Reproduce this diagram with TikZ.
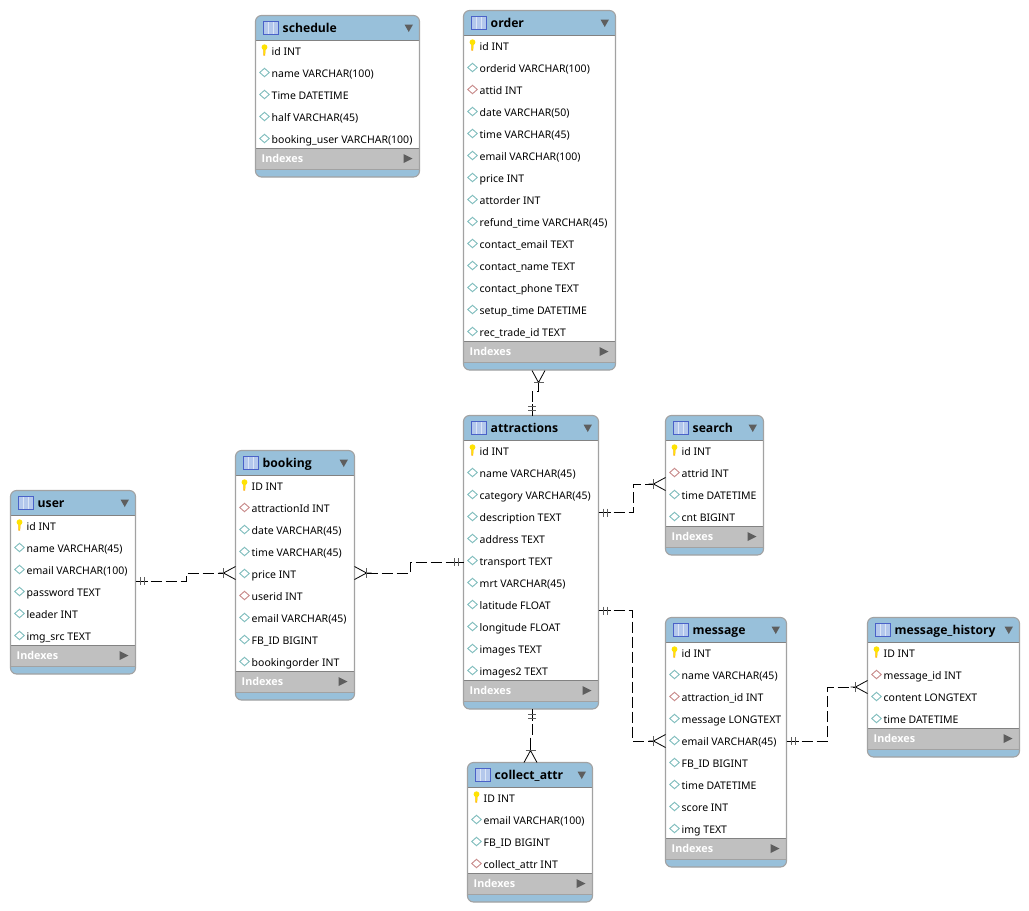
\documentclass[tikz,border=0pt]{standalone}
\usepackage{fontspec}
\setmainfont{Noto Sans}
\newfontfamily\erdboldface{Open Sans}[BoldFont={Open Sans Bold}]
\usetikzlibrary{calc}
\definecolor{erdhead}{HTML}{98C0DA}
\definecolor{erdband}{HTML}{C0C0C0}
\definecolor{erdedge}{HTML}{A2A2A2}
\definecolor{erdrule}{HTML}{828282}
\definecolor{erdmark}{HTML}{5E5E5E}
\definecolor{erdteal}{HTML}{7FBDBD}
\definecolor{erdred}{HTML}{C88A8A}
\definecolor{erdglyphedge}{HTML}{4A62C8}
\definecolor{erdglyphfill}{HTML}{B4C8EC}
\definecolor{erdglyphline}{HTML}{DCE6F6}
\tikzset{
  x=1pt,y=-1pt,
  rowtext/.style={anchor=base west,inner sep=0pt,font=\fontsize{10.5}{12}\selectfont,text=black},
  titletext/.style={anchor=base west,inner sep=0pt,font=\erdboldface\fontsize{12.2}{14}\selectfont\bfseries,text=black},
  idxtext/.style={anchor=base west,inner sep=0pt,font=\erdboldface\fontsize{10.8}{12}\selectfont\bfseries,text=white},
  tablebox/.style={anchor=north west,rectangle,rounded corners=6pt,inner sep=0pt,outer sep=0pt},
  bandbox/.style={anchor=north west,rectangle,inner sep=0pt,outer sep=0pt},
  erdrel/.style={draw=black,line width=0.8pt,dash pattern=on 11pt off 4pt},
  fromcrow/.style={shorten <=12pt},
  tocrow/.style={shorten >=12pt},
  pics/erdone/.style={code={
    \draw[black,line width=0.8pt] (0,0)--(12,0);
    \draw[erdmark,line width=1pt] (5,-4)--(5,4) (9,-4)--(9,4);
  }},
  pics/erdmany/.style={code={
    \draw[black,line width=0.8pt] (17,0)--(12,0) (12,0)--(0,-6.5) (12,0)--(0,6.5);
    \draw[erdmark,line width=1.4pt] (12,-5)--(12,5);
  }},
}
% Column markers: primary key, plain column, foreign key
\newcommand{\erdiconp}[2]{\begin{scope}[shift={(#1,#2)}]
  \fill[orange!70!yellow] (-1.2,-3)--(-1.2,5)--(0.6,5)--(1.2,-3)--cycle;
  \fill[yellow!85!orange] (0,-3.3) ellipse [x radius=2.9pt,y radius=2.9pt];
  \fill[yellow!90!orange] (-0.8,-2)--(-0.6,4)--(0.4,4)--(0.8,-2)--cycle;
\end{scope}}
\newcommand{\erdiconn}[2]{\draw[erdteal,fill=white,line width=0.9pt] (#1-4.8,#2)--(#1,#2-4.2)--(#1+4.8,#2)--(#1,#2+4.2)--cycle;}
\newcommand{\erdiconf}[2]{\draw[erdred,fill=white,line width=0.9pt] (#1-4.8,#2)--(#1,#2-4.2)--(#1+4.8,#2)--(#1,#2+4.2)--cycle;}
% \erdtable{id}{left}{right}{top}{row count}{title}{kind/text list}
\newcommand{\erdtable}[7]{%
  \pgfmathsetmacro{\erdw}{#3-#2}%
  \pgfmathsetmacro{\erdh}{51.5+22*#5}%
  \pgfmathsetmacro{\erdbh}{22*#5-2.5}%
  \pgfmathsetmacro{\erdbt}{#4+25}%
  \pgfmathsetmacro{\erdit}{#4+25+\erdbh}%
  \pgfmathsetmacro{\erdix}{#2+9}%
  \node[tablebox,fill=erdhead,minimum width=\erdw pt,minimum height=\erdh pt] (#1) at (#2,#4) {};
  \node[bandbox,fill=white,minimum width=\erdw pt,minimum height=\erdbh pt] (#1-body) at (#2,\erdbt) {};
  \node[bandbox,fill=erdband,minimum width=\erdw pt,minimum height=21.5pt] (#1-band) at (#2,\erdit) {};
  \draw[erdrule,line width=0.8pt] (#1-body.north west)--(#1-body.north east) (#1-band.north west)--(#1-band.north east);
  \draw[erdedge,line width=0.8pt] (#1-band.south west)--(#1-band.south east);
  \draw[erdrule,line width=0.8pt] (#1-body.north west)--(#1-body.south west) (#1-body.north east)--(#1-body.south east);
  \node[tablebox,draw=erdedge,line width=1.1pt,minimum width=\erdw pt,minimum height=\erdh pt] at (#2,#4) {};
  % table glyph in the header
  \begin{scope}[shift={(#2,#4)}]
    \fill[erdglyphedge] (7,5) rectangle (23,19);
    \fill[erdglyphfill] (8,6.8) rectangle (22,18.2);
    \draw[erdglyphline,line width=0.7pt] (12.5,6.8)--(12.5,18.2) (17.5,6.8)--(17.5,18.2);
  \end{scope}
  \node[titletext] (#1-title) at (#2+27,#4+17) {#6};
  \fill[erdmark] (#3-15,#4+9)--(#3-6.5,#4+9)--(#3-10.75,#4+16.5)--cycle;
  \foreach \erdk/\erdtxt [count=\erdn] in {#7} {
    \pgfmathsetmacro{\erdry}{#4+36+22*(\erdn-1)}
    \pgfmathsetmacro{\erdiy}{\erdry-1}
    \csname erdicon\erdk\endcsname{\erdix}{\erdiy}
    \node[rowtext] (#1-\erdn) at (#2+16,\erdry+4) {\erdtxt};
  }
  \node[idxtext] (#1-idx) at (#2+6,\erdit+14.5) {Indexes};
  \fill[erdmark] (#3-16,\erdit+6)--(#3-7,\erdit+10.5)--(#3-16,\erdit+15)--cycle;
}
\begin{document}
\begin{tikzpicture}
\useasboundingbox[fill=white] (-0.5,-0.5) rectangle (1028.5,910.5);

\erdtable{schedule}{255}{419}{15}{5}{schedule}{p/id INT,n/name VARCHAR(100),n/Time DATETIME,n/half VARCHAR(45),n/booking\_user VARCHAR(100)}
\erdtable{order}{463}{615}{10}{14}{order}{p/id INT,n/orderid VARCHAR(100),f/attid INT,n/date VARCHAR(50),n/time VARCHAR(45),n/email VARCHAR(100),n/price INT,n/attorder INT,n/refund\_time VARCHAR(45),n/contact\_email TEXT,n/contact\_name TEXT,n/contact\_phone TEXT,n/setup\_time DATETIME,n/rec\_trade\_id TEXT}
\erdtable{attractions}{463}{598}{415}{11}{attractions}{p/id INT,n/name VARCHAR(45),n/category VARCHAR(45),n/description TEXT,n/address TEXT,n/transport TEXT,n/mrt VARCHAR(45),n/latitude FLOAT,n/longitude FLOAT,n/images TEXT,n/images2 TEXT}
\erdtable{search}{665}{763}{415}{4}{search}{p/id INT,f/attrid INT,n/time DATETIME,n/cnt BIGINT}
\erdtable{booking}{235}{354}{450}{9}{booking}{p/ID INT,f/attractionId INT,n/date VARCHAR(45),n/time VARCHAR(45),n/price INT,f/userid INT,n/email VARCHAR(45),n/FB\_ID BIGINT,n/bookingorder INT}
\erdtable{user}{10}{135}{490}{6}{user}{p/id INT,n/name VARCHAR(45),n/email VARCHAR(100),n/password TEXT,n/leader INT,n/img\_src TEXT}
\erdtable{message}{665}{786}{617}{9}{message}{p/id INT,n/name VARCHAR(45),f/attraction\_id INT,n/message LONGTEXT,n/email VARCHAR(45),n/FB\_ID BIGINT,n/time DATETIME,n/score INT,n/img TEXT}
\erdtable{history}{867}{1019}{617}{4}{message\_history}{p/ID INT,f/message\_id INT,n/content LONGTEXT,n/time DATETIME}
\erdtable{collect}{467}{592}{762}{4}{collect\_attr}{p/ID INT,n/email VARCHAR(100),n/FB\_ID BIGINT,f/collect\_attr INT}

% Attachment points of the relationship lines on the table edges
\coordinate (order-s) at ($(order.north west)+(75,360)$);
\coordinate (attr-n) at ($(attractions.north west)+(68.5,0)$);
\coordinate (attr-s) at ($(attractions.north west)+(68.5,293.5)$);
\coordinate (attr-e1) at ($(attractions.north east)+(0,97)$);
\coordinate (attr-e2) at ($(attractions.north east)+(0,195)$);
\coordinate (attr-w) at ($(attractions.north west)+(0,146.5)$);
\coordinate (search-w) at ($(search.north west)+(0,68.5)$);
\coordinate (booking-w) at ($(booking.north west)+(0,122.5)$);
\coordinate (booking-e) at ($(booking.north east)+(0,122.5)$);
\coordinate (user-e) at ($(user.north east)+(0,90.5)$);
\coordinate (message-w) at ($(message.north west)+(0,123.5)$);
\coordinate (message-e) at ($(message.north east)+(0,123.5)$);
\coordinate (history-w) at ($(history.north west)+(0,69.5)$);
\coordinate (collect-n) at ($(collect.north west)+(63,0)$);

% Relationship lines
\draw[erdrel,fromcrow] (order-s) -- ++(0,21) -| (attr-n);
\pic[rotate=-90] at (order-s) {erdmany};
\pic[rotate=90] at (attr-n) {erdone};

\draw[erdrel,tocrow] (attr-e1) -- ++(35,0) |- (search-w);
\pic at (attr-e1) {erdone};
\pic[rotate=180] at (search-w) {erdmany};

\draw[erdrel,tocrow] (attr-e2) -- ++(34,0) |- (message-w);
\pic at (attr-e2) {erdone};
\pic[rotate=180] at (message-w) {erdmany};

\draw[erdrel,tocrow] (message-e) -- ++(41,0) |- (history-w);
\pic at (message-e) {erdone};
\pic[rotate=180] at (history-w) {erdmany};

\draw[erdrel,tocrow] (user-e) -- ++(51,0) |- (booking-w);
\pic at (user-e) {erdone};
\pic[rotate=180] at (booking-w) {erdmany};

\draw[erdrel,fromcrow] (booking-e) -- ++(56,0) |- (attr-w);
\pic at (booking-e) {erdmany};
\pic[rotate=180] at (attr-w) {erdone};

\draw[erdrel,tocrow] (attr-s) -- ++(0,26) -| (collect-n);
\pic[rotate=-90] at (attr-s) {erdone};
\pic[rotate=90] at (collect-n) {erdmany};
\end{tikzpicture}
\end{document}
